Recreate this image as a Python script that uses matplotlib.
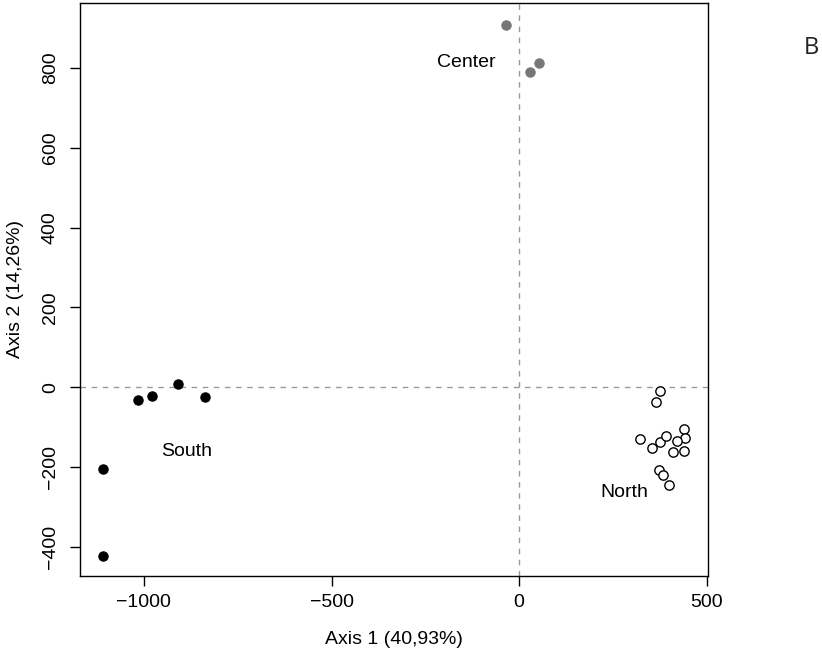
import matplotlib
matplotlib.use("Agg")
import matplotlib.pyplot as plt

plt.rcParams['font.family'] = ['Liberation Sans', 'DejaVu Sans']

# PCA scores by region
south_x = [-1108, -1108, -1015, -979, -910, -837]
south_y = [-204, -423, -33, -21, 9, -24]

center_x = [-35, 54, 29]
center_y = [909, 812, 789]

north_x = [374, 365, 323, 355, 376, 391, 440, 442, 421, 411, 439, 373, 382, 399]
north_y = [-10, -36, -129, -152, -138, -122, -105, -128, -134, -162, -160, -208, -220, -245]

group_labels = ["South", "Center", "North"]
label_x = [-885, -141, 280]
label_y = [-161, 815, -264]

x_ticks = [-1000, -500, 0, 500]
y_ticks = [-400, -200, 0, 200, 400, 600, 800]

FS = 14

fig = plt.figure(figsize=(8.22, 6.55), dpi=100)
ax = fig.add_axes([80 / 822, 1 - 576 / 655, 628 / 822, 573 / 655])

ax.axhline(0, color="#999999", lw=1, ls=(0, (4, 4)), zorder=1)
ax.axvline(0, color="#999999", lw=1, ls=(0, (4, 4)), zorder=1)

ax.scatter(south_x, south_y, s=45, c="black", edgecolors="black", linewidths=0.8, zorder=3)
ax.scatter(center_x, center_y, s=45, c="#777777", edgecolors="#777777", linewidths=0.8, zorder=3)
ax.scatter(north_x, north_y, s=45, facecolors="white", edgecolors="black", linewidths=1.0, zorder=3)

for name, lx, ly in zip(group_labels, label_x, label_y):
    ax.text(lx, ly, name, fontsize=FS, ha="center", va="center")

ax.set_xlim(-1170, 503)
ax.set_ylim(-473, 963)
ax.set_xticks(x_ticks)
ax.set_yticks(y_ticks)
ax.set_xticklabels([f"{v}".replace("-", "\u2212") for v in x_ticks], fontsize=FS)
ax.set_yticklabels([f"{v}".replace("-", "\u2212") for v in y_ticks], fontsize=FS,
                   rotation=90, va="center")
ax.tick_params(axis="x", direction="out", length=7.2, width=1, pad=6)
ax.tick_params(axis="y", direction="out", length=7.2, width=1, pad=8)
for sp in ax.spines.values():
    sp.set_linewidth(1)

ax.set_xlabel("Axis 1 (40,93%)", fontsize=FS, labelpad=14)
ax.set_ylabel("Axis 2 (14,26%)", fontsize=FS, labelpad=13)

fig.text(811 / 822, 1 - 48 / 655, "B", fontsize=17, family="Open Sans",
         ha="center", va="center", color="#222222")

fig.savefig("out.png", dpi=100)
